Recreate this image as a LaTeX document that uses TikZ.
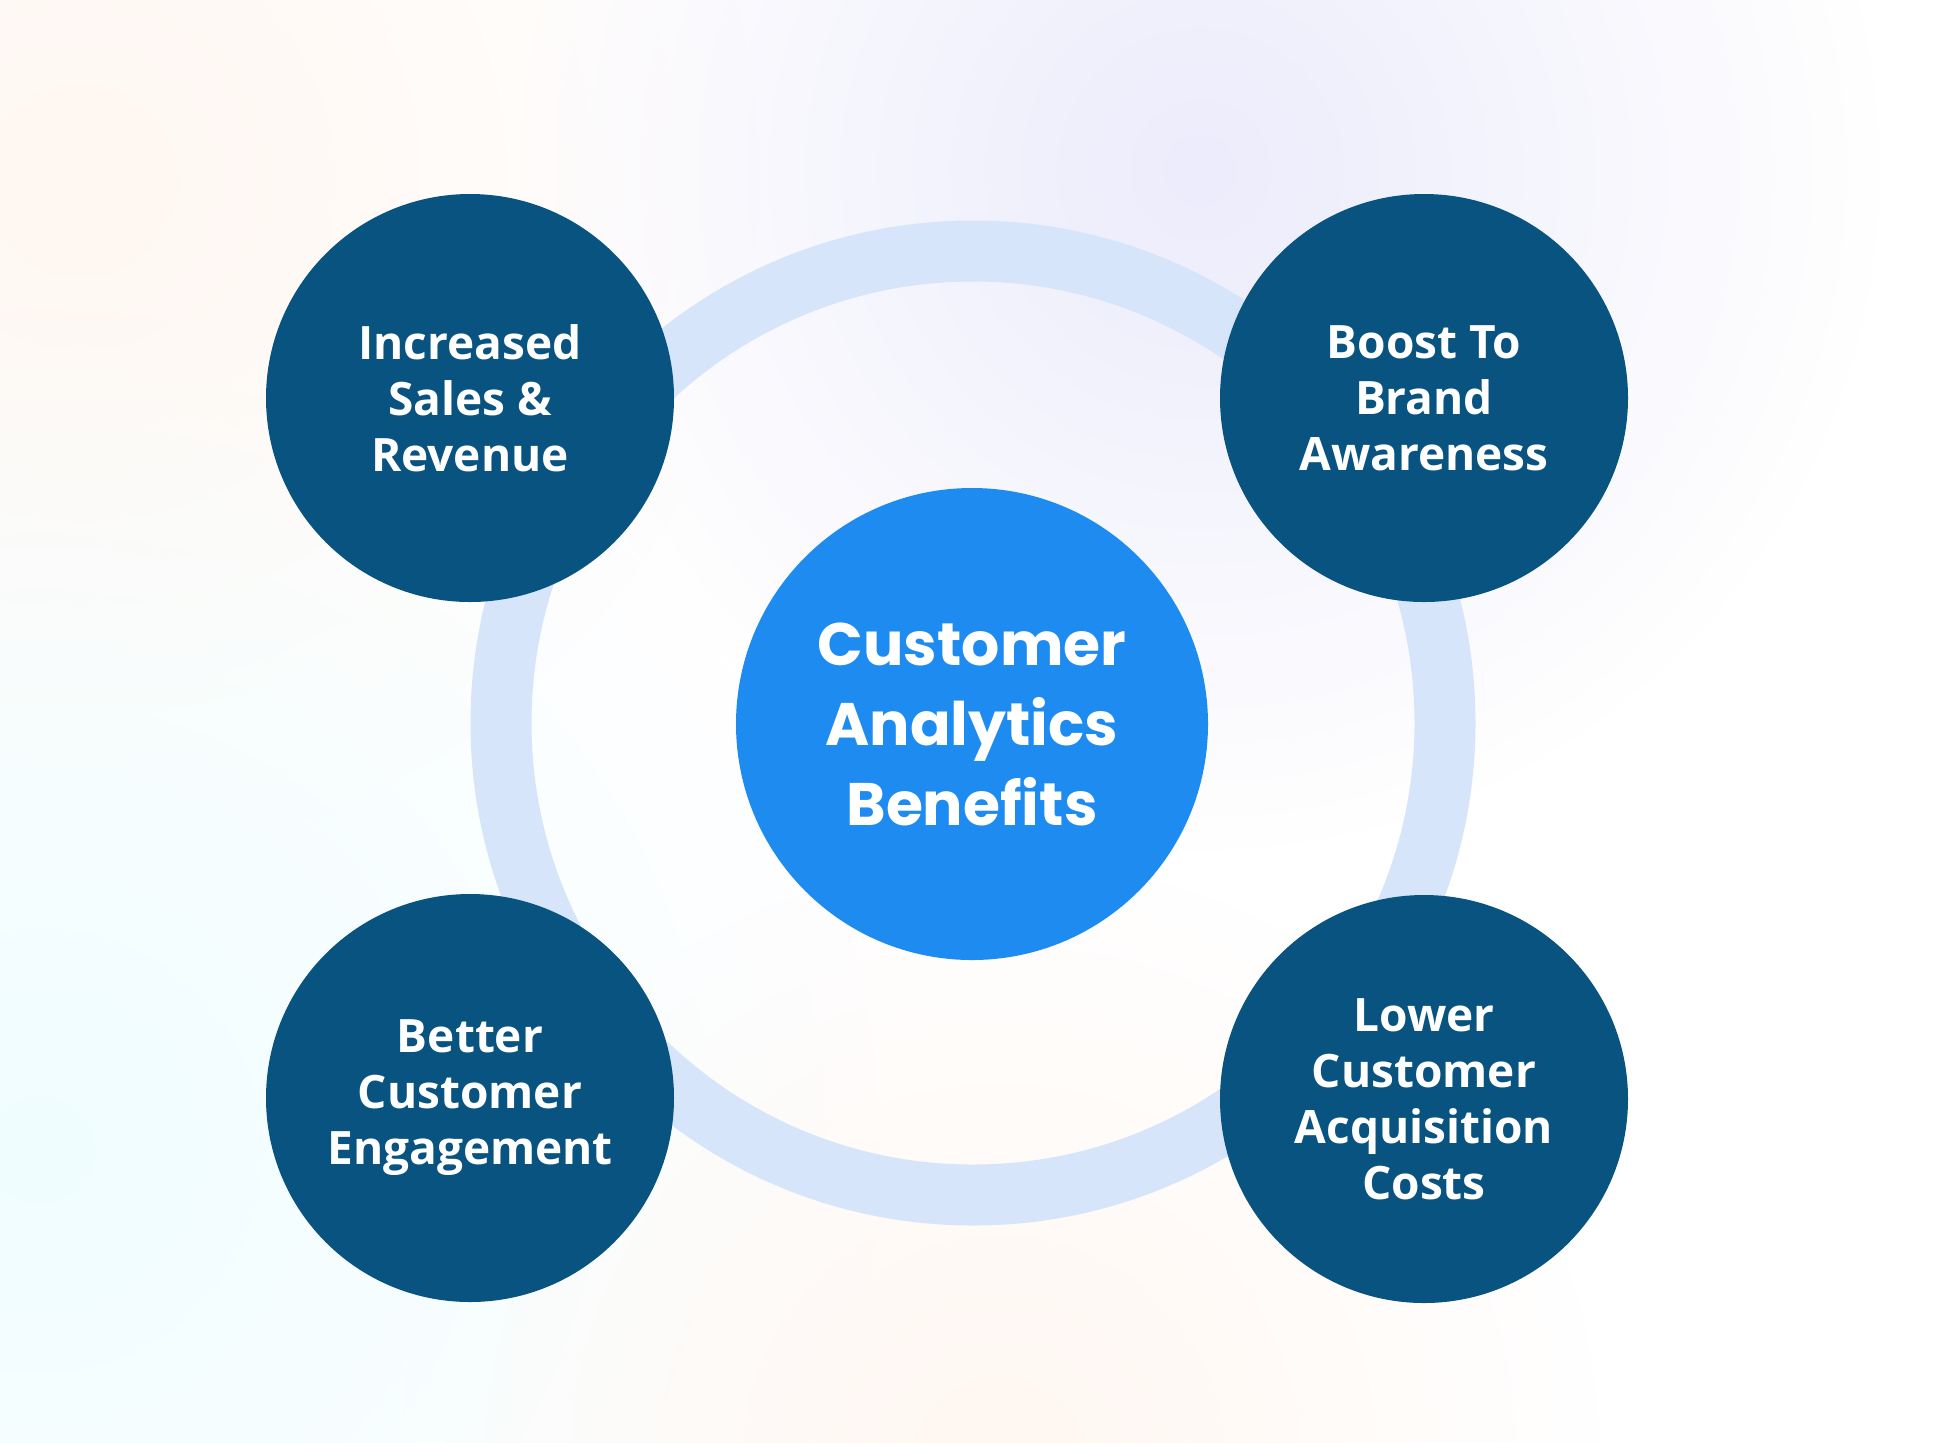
\documentclass[tikz,border=0pt]{standalone}
\usepackage{fontspec}
\usetikzlibrary{fadings}
\newfontfamily\satfont{Open Sans}
\newfontfamily\hubfont{Poppins}
\definecolor{satdark}{RGB}{8,83,128}
\definecolor{hubblue}{RGB}{30,139,240}
\definecolor{ringblue}{RGB}{214,229,250}
\definecolor{bgpeach}{RGB}{255,247,241}
\definecolor{bglav}{RGB}{236,236,252}
\definecolor{bgmint}{RGB}{240,253,255}
\tikzfading[name=softglow, inner color=transparent!0, outer color=transparent!100]
\tikzset{
  sat/.style={circle, fill=satdark, text=white, minimum size=204pt, inner sep=0pt,
    align=center, font=\satfont\bfseries\fontsize{23pt}{28pt}\selectfont},
  hub/.style={circle, fill=hubblue, text=white, minimum size=236pt, inner sep=0pt,
    align=center, font=\hubfont\bfseries\fontsize{30pt}{40pt}\selectfont},
  ringline/.style={draw=ringblue, line width=30.5pt},
  glow/.style={path fading=softglow}
}
\begin{document}
\begin{tikzpicture}[x=0.5pt,y=-0.5pt]
\useasboundingbox (0,0) rectangle (1948,1442);
\fill[white] (0,0) rectangle (1948,1442);
\begin{scope}
\clip (0,0) rectangle (1948,1442);
\fill[bgpeach, glow] (80,180) circle (340pt);
\fill[bglav, glow] (1200,170) circle (340pt);
\fill[bgmint, glow] (40,1150) circle (420pt);
\fill[bgpeach, glow] (1000,1460) circle (300pt);
\end{scope}
\coordinate (ringc) at (973,723);
\draw[ringline] (ringc) circle (236pt);
\node[hub] (hubnode) at (972,724) {Customer\\Analytics\\Benefits};
\node[sat] (sales) at (470,398) {Increased\\Sales \&\\Revenue};
\node[sat] (brand) at (1424,398) {Boost To\\Brand\\Awareness};
\node[sat] (engage) at (470,1098) {Better\\Customer\\Engagement};
\node[sat] (costs) at (1424,1099) {Lower\\Customer\\Acquisition\\Costs};
\end{tikzpicture}
\end{document}
